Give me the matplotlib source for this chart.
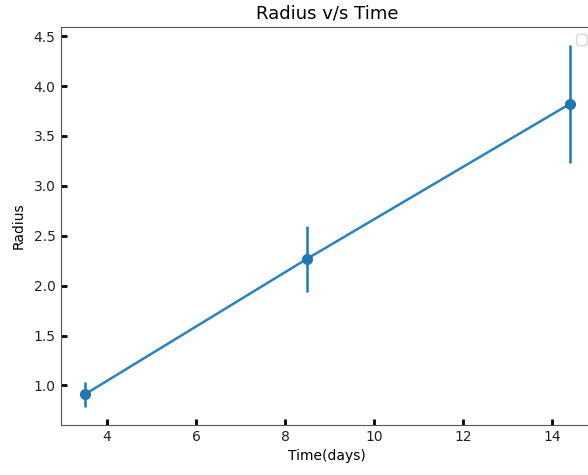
import matplotlib
matplotlib.use("Agg")
import matplotlib.pyplot as plt

time_days = [3.5, 8.5, 14.4]
radius = [0.91, 2.27, 3.82]
radius_err = [0.125, 0.33, 0.59]

fig = plt.figure(figsize=(5.88, 4.75), dpi=100)
ax = fig.add_axes([60.5/588, 50/475, (594-60.5)/588, 398/475])
ax.errorbar(time_days, radius, yerr=radius_err, fmt='o', color='#1f77b4',
            elinewidth=1.8, markersize=7)
ax.plot(time_days, radius, color='#2a82bf', lw=1.8)
ax.set_title("Radius v/s Time", fontsize=13)
ax.set_xlabel("Time(days)", fontsize=10)
ax.set_ylabel("Radius", fontsize=10, labelpad=6)
ax.tick_params(direction='in', length=4, width=2, color='black', labelsize=10,
               labelcolor='#222222')
for s in ax.spines.values():
    s.set_color('#555555')
ax.legend(loc='upper right')
fig.savefig("out.png", dpi=100)
